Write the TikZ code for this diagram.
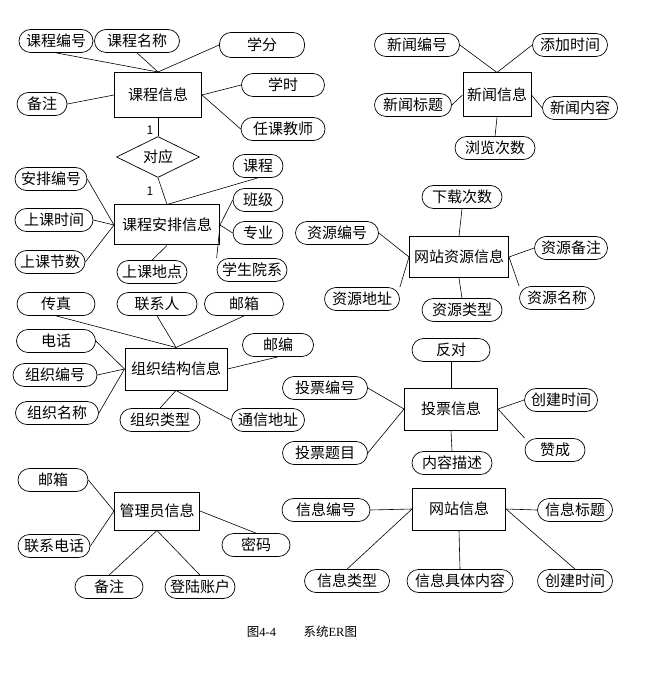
\documentclass[tikz,border=0pt]{standalone}
\usepackage{fontspec}
\setmainfont{Liberation Serif}
\newfontfamily\cjk{Noto Sans CJK SC}
\usetikzlibrary{shapes.geometric}

\tikzset{
  attr/.style={draw, line width=0.7pt, rounded corners=11.5pt, minimum height=23pt,
    inner sep=0pt, font=\cjk\fontsize{15}{17}\selectfont},
  entity/.style={draw, line width=1pt, inner sep=0pt, fill=white,
    font=\cjk\fontsize{15}{17}\selectfont},
  rel/.style={draw, diamond, line width=0.7pt, inner sep=0pt, aspect=2,
    font=\cjk\fontsize{15}{17}\selectfont},
  link/.style={line width=0.6pt}
}

\begin{document}
\begin{tikzpicture}[x=1pt, y=-1pt]

\useasboundingbox (0,0) rectangle (650,684);

% course
\node[entity, minimum width=87pt, minimum height=45pt] (kc) at (158,95) {课程信息};
\node[attr, minimum width=74pt] (kcbh) at (56,41) {课程编号};
\node[attr, minimum width=85pt] (kcmc) at (137,41) {课程名称};
\node[attr, minimum width=85pt, minimum height=25pt] (xf) at (262,45) {学分};
\node[attr, minimum width=83pt] (xs) at (283,85) {学时};
\node[attr, minimum width=84pt] (rkjs) at (283,129) {任课教师};
\node[attr, minimum width=50pt] (bz1) at (42,104) {备注};
\node[rel, minimum width=83pt, minimum height=41pt] (dy) at (158,157) {对应};
\node[font=\cjk\fontsize{12}{14}\selectfont] (n1) at (150,130) {1};
\node[font=\cjk\fontsize{12}{14}\selectfont] (n2) at (150,191) {1};

% course arrangement
\node[entity, minimum width=105pt, minimum height=40pt] (kcap) at (167,225) {课程安排信息};
\node[attr, minimum width=50pt] (kc2) at (258,166) {课程};
\node[attr, minimum width=50pt] (bj) at (258,200) {班级};
\node[attr, minimum width=50pt] (zy1) at (258,233) {专业};
\node[attr, minimum width=70pt] (xsyx) at (252,270) {学生院系};
\node[attr, minimum width=72pt] (apbh) at (51,179) {安排编号};
\node[attr, minimum width=78pt] (sksj) at (54,220) {上课时间};
\node[attr, minimum width=70pt] (skjs) at (50,262) {上课节数};
\node[attr, minimum width=70pt] (skdd) at (152,272) {上课地点};

% organisation
\node[entity, minimum width=102pt, minimum height=42pt] (zz) at (176,369) {组织结构信息};
\node[attr, minimum width=78pt] (cz) at (56,304) {传真};
\node[attr, minimum width=80pt] (lxr) at (157,304) {联系人};
\node[attr, minimum width=79pt] (yx1) at (244,304) {邮箱};
\node[attr, minimum width=79pt] (dh) at (56,341) {电话};
\node[attr, minimum width=84pt] (zzbh) at (55,375) {组织编号};
\node[attr, minimum width=83pt] (zzmc) at (57,413) {组织名称};
\node[attr, minimum width=71pt] (yb) at (278,345) {邮编};
\node[attr, minimum width=80pt] (zzlx) at (160,420) {组织类型};
\node[attr, minimum width=73pt] (txdz) at (268,420) {通信地址};

% admin
\node[entity, minimum width=85pt, minimum height=38pt] (gly) at (157,511) {管理员信息};
\node[attr, minimum width=70pt] (yx2) at (53,480) {邮箱};
\node[attr, minimum width=72pt] (lxdh) at (54,546) {联系电话};
\node[attr, minimum width=68pt] (mm) at (256,545) {密码};
\node[attr, minimum width=68pt] (bz2) at (109,587) {备注};
\node[attr, minimum width=70pt] (dlzh) at (200,587) {登陆账户};

% news
\node[entity, minimum width=68pt, minimum height=44pt] (xw) at (497,95) {新闻信息};
\node[attr, minimum width=85pt] (xwbh) at (417,45) {新闻编号};
\node[attr, minimum width=75pt] (tjsj) at (570,45) {添加时间};
\node[attr, minimum width=77pt] (xwbt) at (413,105) {新闻标题};
\node[attr, minimum width=75pt] (xwnr) at (580,108) {新闻内容};
\node[attr, minimum width=80pt] (llcs) at (495,148) {浏览次数};

% resources
\node[entity, minimum width=99pt, minimum height=41pt] (zyx) at (459,257) {网站资源信息};
\node[attr, minimum width=80pt] (xzcs) at (462,197) {下载次数};
\node[attr, minimum width=83pt] (zybh) at (337,233) {资源编号};
\node[attr, minimum width=73pt] (zybz) at (571,248) {资源备注};
\node[attr, minimum width=75pt] (zydz) at (362,299) {资源地址};
\node[attr, minimum width=80pt] (zylx) at (462,310) {资源类型};
\node[attr, minimum width=75pt] (zymc) at (557,298) {资源名称};

% vote
\node[entity, minimum width=93pt, minimum height=42pt] (tp) at (451,409) {投票信息};
\node[attr, minimum width=78pt] (fd) at (451,350) {反对};
\node[attr, minimum width=85pt] (tpbh) at (325,388) {投票编号};
\node[attr, minimum width=73pt] (cjsj1) at (561,400) {创建时间};
\node[attr, minimum width=85pt] (tptm) at (325,453) {投票题目};
\node[attr, minimum width=60pt] (zc) at (555,450) {赞成};
\node[attr, minimum width=80pt] (nrms) at (452,463) {内容描述};

% site info
\node[entity, minimum width=93pt, minimum height=42pt] (wz) at (459,509) {网站信息};
\node[attr, minimum width=88pt] (xxbh) at (326,510) {信息编号};
\node[attr, minimum width=75pt] (xxbt) at (575,510) {信息标题};
\node[attr, minimum width=85pt] (xxlx) at (347,581) {信息类型};
\node[attr, minimum width=106pt] (xxjt) at (460,581) {信息具体内容};
\node[attr, minimum width=75pt] (cjsj2) at (575,581) {创建时间};

\foreach \a/\b in {kcbh.south/kc.north, kcmc.south/kc.north, xf.west/kc.north,
  xs.west/kc.east, rkjs.west/kc.east, bz1.east/kc.west, kc.south/dy.north,
  dy.south/kcap.north, kc2.south/kcap.north, bj.west/kcap.east, zy1.west/kcap.east,
  xsyx.north west/kcap.east, apbh.east/kcap.west, sksj.east/kcap.west,
  skjs.east/kcap.west, skdd.north/kcap.south}
  \draw[link] (\a) -- (\b);

\foreach \a/\b in {cz.south/zz.north, lxr.south/zz.north, yx1.south/zz.north,
  dh.east/zz.west, zzbh.east/zz.west, zzmc.east/zz.west, yb.south/zz.east,
  zzlx.north/zz.south, txdz.west/zz.south,
  yx2.east/gly.west, lxdh.east/gly.west, mm.north/gly.east,
  bz2.north/gly.south, dlzh.north/gly.south}
  \draw[link] (\a) -- (\b);

\foreach \a/\b in {xwbh.east/xw.north, tjsj.west/xw.north, xwbt.east/xw.west,
  xwnr.west/xw.east, llcs.north/xw.south,
  xzcs.south/zyx.north, zybh.east/zyx.west, zydz.north east/zyx.west,
  zybz.west/zyx.east, zymc.north west/zyx.east, zylx.north/zyx.south,
  fd.south/tp.north, tpbh.east/tp.west, tptm.east/tp.west, cjsj1.west/tp.east,
  zc.north west/tp.east, nrms.north/tp.south,
  xxbh.east/wz.west, xxbt.west/wz.east, xxlx.north/wz.west,
  xxjt.north/wz.south, cjsj2.north/wz.east}
  \draw[link] (\a) -- (\b);

\node (cap) at (302,632) {\fontsize{12.5}{14}\selectfont{\cjk 图}4-4\hspace{2.2em}{\cjk 系统}ER{\cjk 图}};

\end{tikzpicture}
\end{document}
